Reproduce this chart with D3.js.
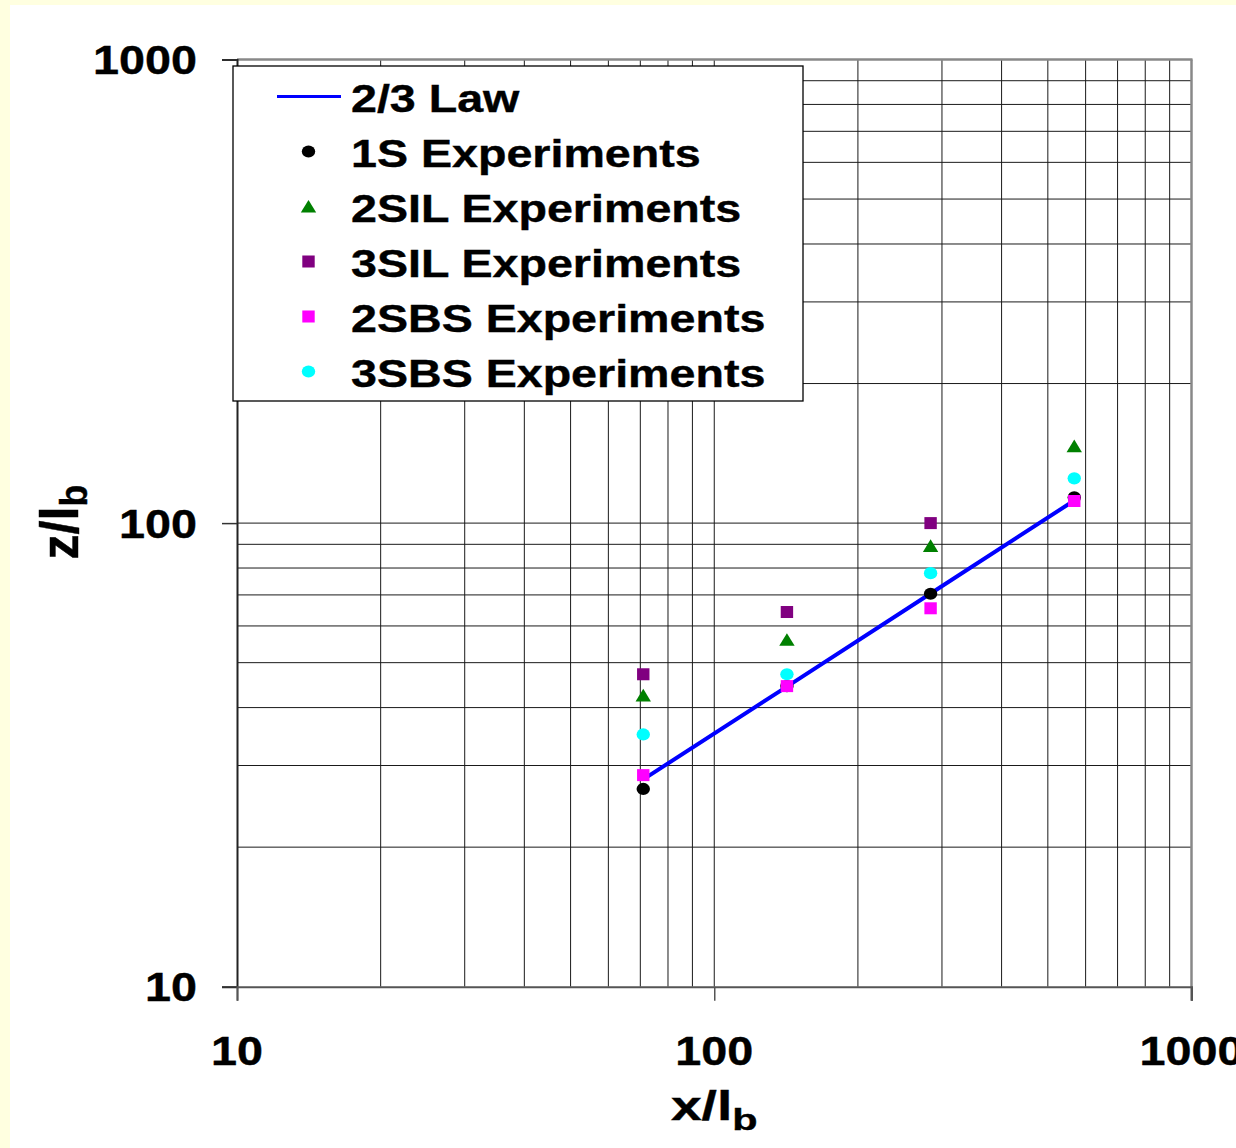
<!DOCTYPE html>
<html>
<head>
<meta charset="utf-8">
<script src="https://cdn.jsdelivr.net/npm/d3@7"></script>
<style>
  html, body { margin: 0; padding: 0; background: #FFFFE0; }
  svg { display: block; }
  text { font-family: "Liberation Sans", Arial, sans-serif; font-weight: bold; fill: #000; }
</style>
</head>
<body>
<svg id="chart" width="1236" height="1148"></svg>
<script>
// ---- data ----
const xValues   = [71, 142, 284, 568];
const lawValues = [28.0, 44.4, 70.5, 111.9];
const s1S       = [26.7, 44.5, 70.4, 113.6];
const s2SIL     = [42.5, 56.0, 89.3, 146.5];
const s3SIL     = [47.2, 64.3, 100.0, null];
const s2SBS     = [28.6, 44.5, 65.5, 111.6];
const s3SBS     = [35.0, 47.2, 78.0, 124.9];
const xTickLabels = [10, 100, 1000];
const yTickLabels = [10, 100, 1000];
const legendLabels = ["2/3 Law", "1S Experiments", "2SIL Experiments", "3SIL Experiments", "2SBS Experiments", "3SBS Experiments"];

const svg = d3.select("#chart");
const W = 1236, H = 1148;

// white panel over yellow background
svg.append("rect").attr("x", 0).attr("y", 0).attr("width", W).attr("height", H).attr("fill", "#FFFFE0");
svg.append("rect").attr("x", 10).attr("y", 5).attr("width", W - 10).attr("height", H - 5).attr("fill", "#FFFFFF");

const x = d3.scaleLog().domain([10, 1000]).range([237, 1191.5]);
const y = d3.scaleLog().domain([10, 1000]).range([986.7, 59.5]);

const [x0, x1] = x.range();
const [y0, y1] = y.range();

// grid lines
const gridX = x.ticks().filter(v => v > 10 && v < 1000);
const gridY = y.ticks().filter(v => v > 10 && v < 1000);
const grid = svg.append("g");
grid.selectAll("line.gx").data(gridX).enter().append("line")
  .attr("x1", d => x(d)).attr("x2", d => x(d)).attr("y1", y1).attr("y2", y0)
  .attr("stroke", "#1a1a1a").attr("stroke-width", 1);
grid.selectAll("line.gy").data(gridY).enter().append("line")
  .attr("x1", x0).attr("x2", x1).attr("y1", d => y(d)).attr("y2", d => y(d))
  .attr("stroke", "#1a1a1a").attr("stroke-width", 1);

// frame: top and right gray
svg.append("line").attr("x1", x0).attr("x2", x1 + 1).attr("y1", y1).attr("y2", y1)
  .attr("stroke", "#888").attr("stroke-width", 2.5);
svg.append("line").attr("x1", x1).attr("x2", x1).attr("y1", y1).attr("y2", y0 + 14)
  .attr("stroke", "#888").attr("stroke-width", 2.5);

// axes using d3 axis generators
const yAxis = d3.axisLeft(y).tickValues(yTickLabels).tickSize(15).tickFormat("");
const gy = svg.append("g").attr("transform", `translate(${x0},0)`).call(yAxis);
gy.select(".domain").attr("stroke", "#222").attr("stroke-width", 2);
gy.selectAll(".tick line").attr("stroke", "#333").attr("stroke-width", 1.5);

const xAxis = d3.axisBottom(x).tickValues(xTickLabels).tickSize(14).tickFormat("");
const gx = svg.append("g").attr("transform", `translate(0,${y0})`).call(xAxis);
gx.select(".domain").attr("stroke", "#555").attr("stroke-width", 2);
gx.selectAll(".tick line").attr("stroke", "#555").attr("stroke-width", 1.5);

// tick labels (horizontally stretched like the source)
const SX = 1.19;
const TSX = 1.14;
yTickLabels.forEach(v => {
  svg.append("text")
    .attr("transform", `translate(197,${y(v) + 14.7}) scale(${TSX},1)`)
    .attr("text-anchor", "end").attr("font-size", 41).attr("stroke", "#000").attr("stroke-width", 0.4).text(String(v));
});
xTickLabels.forEach(v => {
  svg.append("text")
    .attr("transform", `translate(${x(v)},${1065}) scale(${TSX},1)`)
    .attr("text-anchor", "middle").attr("font-size", 41).attr("stroke", "#000").attr("stroke-width", 0.4).text(String(v));
});

// axis titles
const xt = svg.append("text")
  .attr("transform", `translate(${x(100)},1120) scale(1.38,1)`)
  .attr("text-anchor", "middle").attr("font-size", 40).attr("stroke", "#000").attr("stroke-width", 0.4);
xt.append("tspan").text("x/l");
xt.append("tspan").attr("font-size", 30).attr("dy", 10).text("b");

const yt = svg.append("text")
  .attr("transform", `translate(78,${y(100) - 1}) rotate(-90) scale(1.05,1.12)`)
  .attr("text-anchor", "middle").attr("font-size", 48).attr("stroke", "#000").attr("stroke-width", 0.4);
yt.append("tspan").text("z/l");
yt.append("tspan").attr("font-size", 34).attr("dy", 8).text("b");

// 2/3 law line
const lawData = xValues.map((v, i) => [v, lawValues[i]]);
svg.append("path").datum(lawData)
  .attr("d", d3.line().x(d => x(d[0])).y(d => y(d[1])))
  .attr("fill", "none").attr("stroke", "#0000FF").attr("stroke-width", 4);

// marker helpers
function circle(g, cx, cy, color) {
  g.append("ellipse").attr("cx", cx).attr("cy", cy).attr("rx", 6.7).attr("ry", 6.1).attr("fill", color);
}
function square(g, cx, cy, color) {
  g.append("rect").attr("x", cx - 6.2).attr("y", cy - 6).attr("width", 12.4).attr("height", 12).attr("fill", color);
}
function triangle(g, cx, cy, color) {
  g.append("path").attr("d", `M${cx - 7.7},${cy + 6} L${cx + 7.7},${cy + 6} L${cx},${cy - 6.6} Z`).attr("fill", color);
}

const series = [
  { vals: s1S,   color: "#000000", shape: circle },
  { vals: s2SIL, color: "#008000", shape: triangle },
  { vals: s3SIL, color: "#800080", shape: square },
  { vals: s3SBS, color: "#00FFFF", shape: circle },
  { vals: s2SBS, color: "#FF00FF", shape: square }
];
const marks = svg.append("g");
series.forEach(s => {
  s.vals.forEach((v, i) => {
    if (v == null) return;
    s.shape(marks, x(xValues[i]), y(v), s.color);
  });
});

// legend
const lg = svg.append("g");
lg.append("rect").attr("x", 233).attr("y", 66).attr("width", 570).attr("height", 335)
  .attr("fill", "#fff").attr("stroke", "#000").attr("stroke-width", 1.3);
const rowY = i => 97.5 + i * 55;
lg.append("line").attr("x1", 277).attr("x2", 341).attr("y1", rowY(0) - 1).attr("y2", rowY(0) - 1)
  .attr("stroke", "#0000FF").attr("stroke-width", 3);
const legendMarkers = [
  null,
  { shape: circle, color: "#000000" },
  { shape: triangle, color: "#008000" },
  { shape: square, color: "#800080" },
  { shape: square, color: "#FF00FF" },
  { shape: circle, color: "#00FFFF" }
];
legendLabels.forEach((lab, i) => {
  const m = legendMarkers[i];
  if (m) m.shape(lg, 308.5, rowY(i) - 1, m.color);
  lg.append("text")
    .attr("transform", `translate(351,${rowY(i) + 14.2}) scale(1.18,1)`)
    .attr("font-size", 39.5).attr("stroke", "#000").attr("stroke-width", 0.4).text(lab);
});
</script>
</body>
</html>
